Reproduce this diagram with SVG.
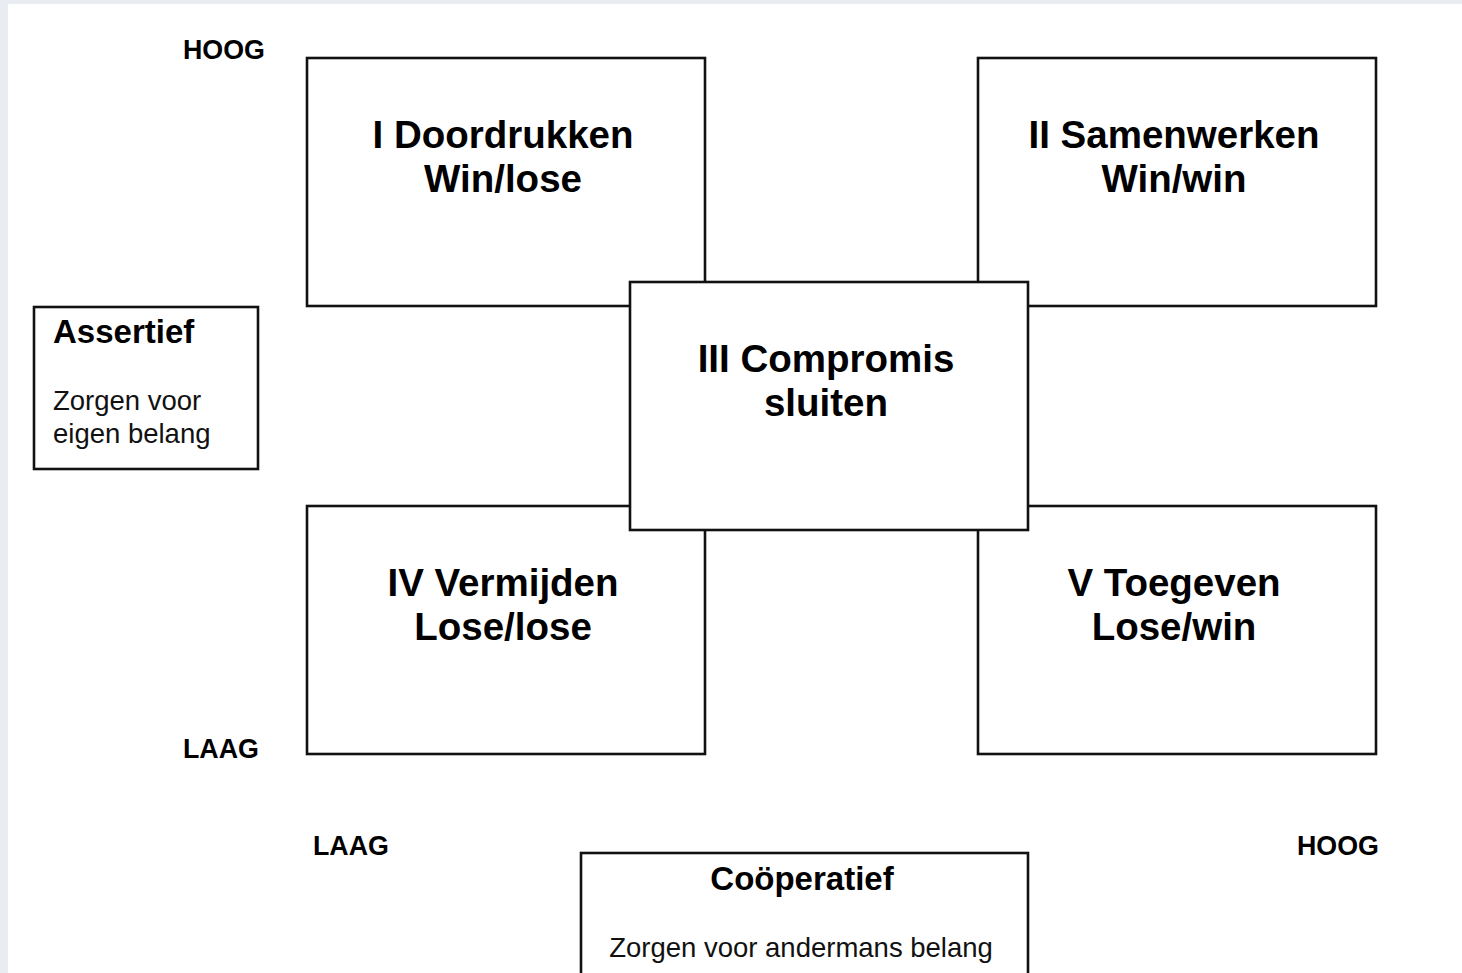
<svg xmlns="http://www.w3.org/2000/svg" width="1462" height="973" viewBox="0 0 1462 973">
<style>
.box{fill:#fff;stroke:#111;stroke-width:2.6}
.t{font-family:"Liberation Sans",Arial,sans-serif;font-weight:bold;font-size:38.5px;fill:#000;text-anchor:middle}
.ax{font-family:"Liberation Sans",Arial,sans-serif;font-weight:bold;font-size:26.8px;fill:#000}
.h{font-family:"Liberation Sans",Arial,sans-serif;font-weight:bold;font-size:33px;fill:#000}
.r{font-family:"Liberation Sans",Arial,sans-serif;font-size:27.5px;fill:#111}
</style>
<rect x="0" y="0" width="1462" height="973" fill="#e9edf1"/>
<rect x="8" y="4" width="1454" height="969" fill="#fff"/>
<g id="axis-labels">
<text class="ax" x="183" y="59">HOOG</text>
<text class="ax" x="183" y="758">LAAG</text>
<text class="ax" x="313" y="855">LAAG</text>
<text class="ax" x="1297" y="855">HOOG</text>
</g>
<g id="connectors"></g>
<g id="box1">
<rect class="box" x="307" y="58" width="398" height="248"/>
<text class="t" x="503" y="148">I Doordrukken</text>
<text class="t" x="503" y="192">Win/lose</text>
</g>
<g id="box2">
<rect class="box" x="978" y="58" width="398" height="248"/>
<text class="t" x="1174" y="148">II Samenwerken</text>
<text class="t" x="1174" y="192">Win/win</text>
</g>
<g id="box4">
<rect class="box" x="307" y="506" width="398" height="248"/>
<text class="t" x="503" y="596">IV Vermijden</text>
<text class="t" x="503" y="640">Lose/lose</text>
</g>
<g id="box5">
<rect class="box" x="978" y="506" width="398" height="248"/>
<text class="t" x="1174" y="596">V Toegeven</text>
<text class="t" x="1174" y="640">Lose/win</text>
</g>
<g id="box3">
<rect class="box" x="630" y="282" width="398" height="248"/>
<text class="t" x="826" y="372">III Compromis</text>
<text class="t" x="826" y="416">sluiten</text>
</g>
<g id="assertief">
<rect class="box" x="34" y="307" width="224" height="162"/>
<text class="h" x="53" y="343">Assertief</text>
<text class="r" x="53" y="410">Zorgen voor</text>
<text class="r" x="53" y="443">eigen belang</text>
</g>
<g id="cooperatief">
<rect class="box" x="581" y="853" width="447" height="140"/>
<text class="h" x="802" y="890" text-anchor="middle">Coöperatief</text>
<text class="r" x="801" y="957" text-anchor="middle">Zorgen voor andermans belang</text>
</g>
</svg>
